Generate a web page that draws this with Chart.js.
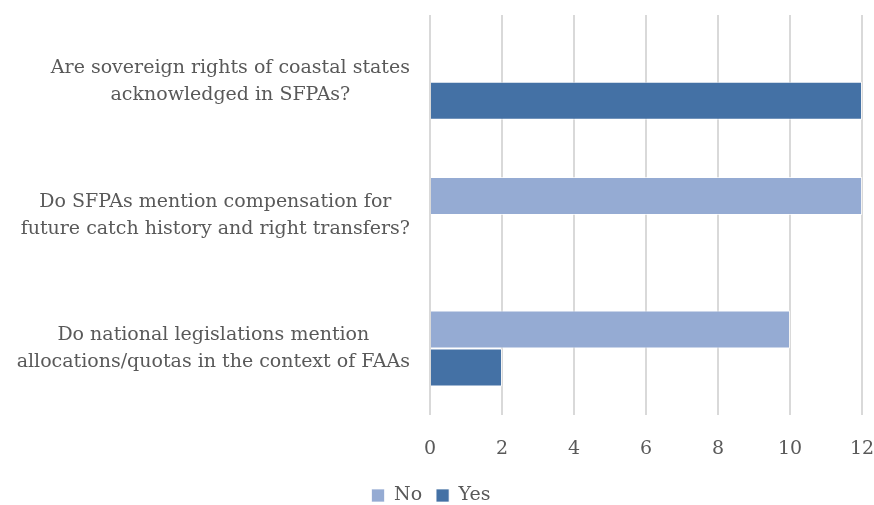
<!DOCTYPE html>
<html>
<head>
<meta charset="utf-8">
<script src="https://cdn.jsdelivr.net/npm/chart.js@4/dist/chart.umd.min.js"></script>
<style>
  html, body { margin: 0; padding: 0; background: #fff; }
  #wrap { width: 874px; height: 505px; }
</style>
</head>
<body>
<div id="wrap"><canvas id="graphContainer" width="874" height="505"></canvas></div>
<script>
var categories = [
    ['Are sovereign rights of coastal states', 'acknowledged in SFPAs?'],
    ['Do SFPAs mention compensation for', 'future catch history and right transfers?'],
    ['Do national legislations mention', 'allocations/quotas in the context of FAAs']
];
var noValues = [0, 12, 10];
var yesValues = [12, 0, 2];
var xTicks = [0, 2, 4, 6, 8, 10, 12];

var textGrey = '#595959';
var serif = "'DejaVu Serif', 'Liberation Serif', serif";
var labelSize = 19;
var labelLine = 27;

// category labels: block right-aligned to the axis, lines centred inside the block
var categoryLabels = {
  id: 'categoryLabels',
  afterDraw: function(chart) {
    var c = chart.ctx;
    var yScale = chart.scales.y;
    var rightEdge = chart.chartArea.left - 20;
    c.save();
    c.font = labelSize + 'px ' + serif;
    c.fillStyle = textGrey;
    c.textAlign = 'center';
    c.textBaseline = 'middle';
    chart.data.labels.forEach(function(lines, i) {
      var w = 0;
      lines.forEach(function(l) { w = Math.max(w, c.measureText(l).width); });
      var cx = rightEdge - w / 2;
      var cy = yScale.getPixelForValue(i);
      var top = cy - (lines.length - 1) * labelLine / 2;
      lines.forEach(function(l, k) { c.fillText(l, cx, top + k * labelLine); });
    });
    c.restore();
  }
};

var ctx = document.getElementById('graphContainer');

var chart = new Chart(ctx.getContext('2d'), {
  type: 'bar',
  data: {
    labels: categories,
    datasets: [{
      label: 'No',
      backgroundColor: '#95abd3',
      borderColor: 'rgba(255,255,255,0.7)',
      borderWidth: 1,
      data: noValues
    }, {
      label: 'Yes',
      backgroundColor: '#4471a5',
      borderColor: 'rgba(255,255,255,0.7)',
      borderWidth: 1,
      data: yesValues
    }]
  },
  options: {
    responsive: false,
    animation: false,
    indexAxis: 'y',
    layout: { padding: { top: 15, right: 12, left: 0, bottom: -10 } },
    datasets: { bar: { categoryPercentage: 0.571, barPercentage: 1 } },
    scales: {
      x: {
        min: 0,
        max: 12,
        afterBuildTicks: function(axis) {
          axis.ticks = xTicks.map(function(v) { return { value: v }; });
        },
        afterFit: function(axis) {
          axis.paddingRight = 0;
          axis.paddingLeft = 0;
          axis.height -= 10;
        },
        grid: { color: '#d9d9d9', lineWidth: 2, drawTicks: false },
        border: { display: false },
        ticks: { color: textGrey, padding: 22, font: { family: serif, size: 19 } }
      },
      y: {
        afterFit: function(axis) {
          axis.width = 430;
          axis.paddingTop = 0;
          axis.paddingBottom = 0;
        },
        grid: { display: false },
        border: { display: false },
        ticks: { display: false }
      }
    },
    plugins: {
      legend: {
        position: 'bottom',
        labels: {
          color: textGrey,
          boxWidth: 13,
          boxHeight: 13,
          padding: 14,
          font: { family: serif, size: 19 }
        }
      },
      tooltip: { enabled: false }
    }
  },
  plugins: [categoryLabels]
});
</script>
</body>
</html>
